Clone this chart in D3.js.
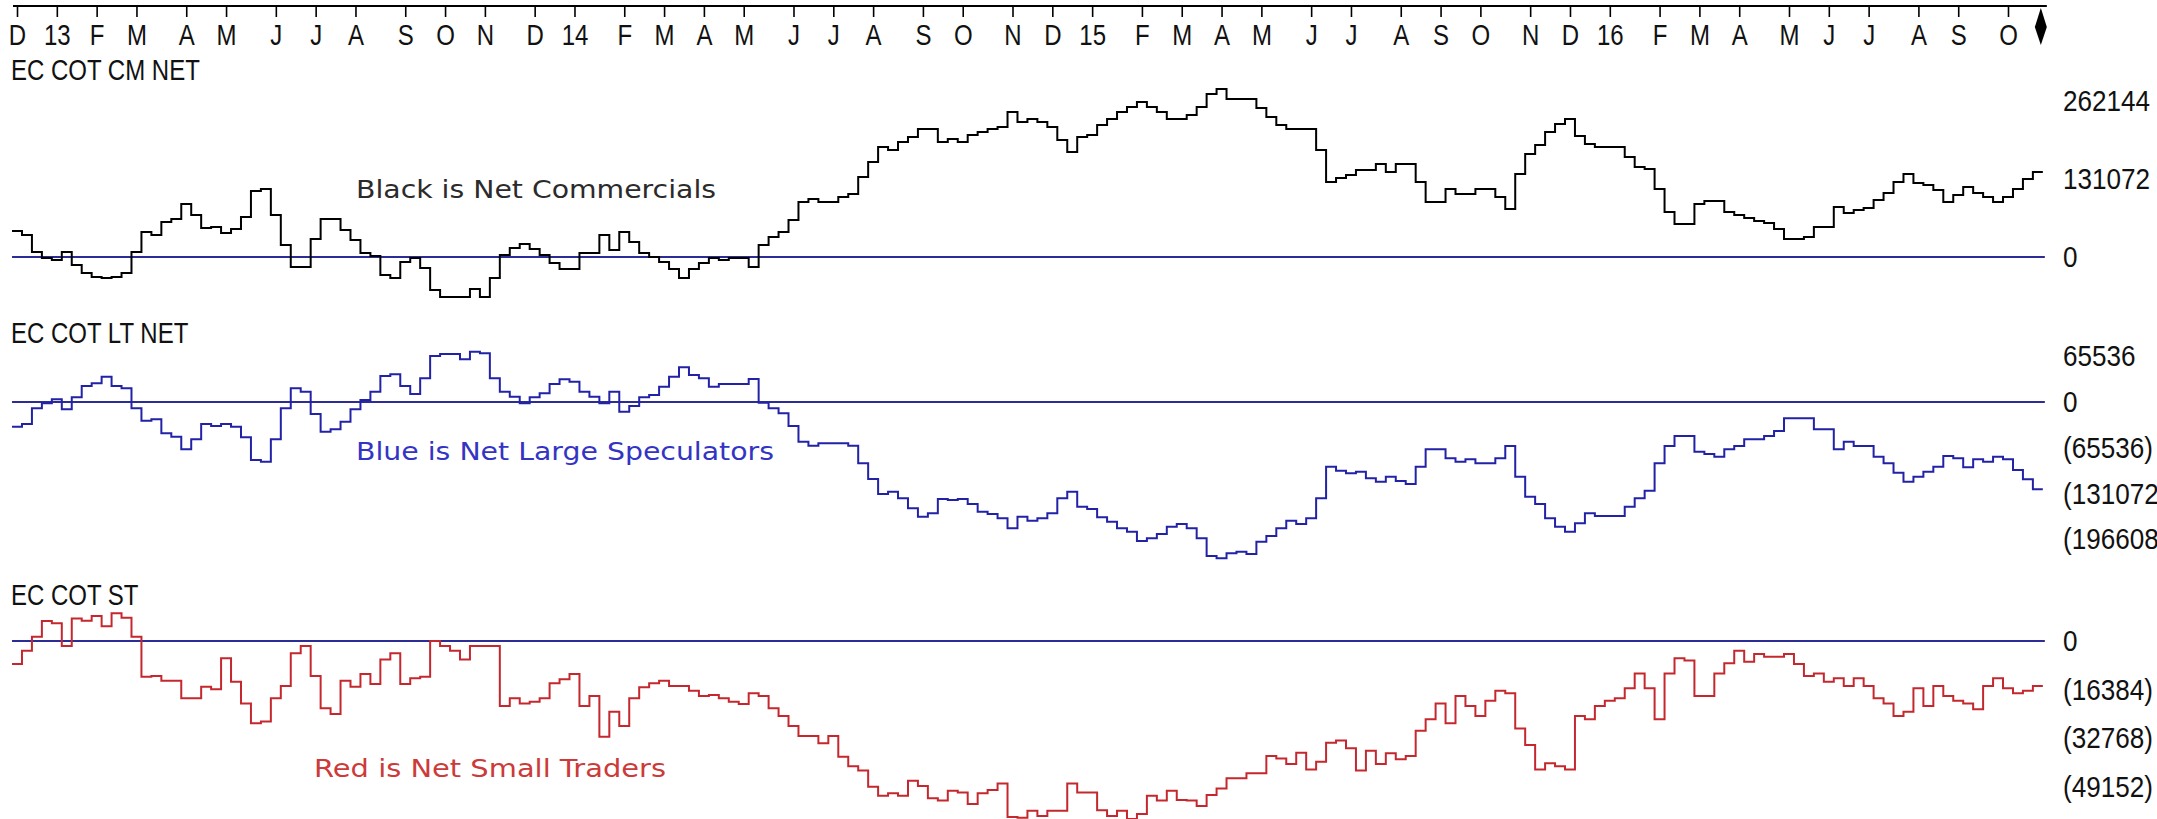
<!DOCTYPE html>
<html><head><meta charset="utf-8">
<script src="https://cdn.jsdelivr.net/npm/d3@7/dist/d3.min.js"></script>
<style>html,body{margin:0;padding:0;background:#fff;}svg{display:block;}</style>
</head><body>
<svg id="chart" width="2157" height="819"></svg>
<script>
// ---------------- DATA ----------------
const startDate = "2012-12-07";           // first weekly report shown
const monthLetters = ["J","F","M","A","M","J","J","A","S","O","N","D"];

const commercials = [
 43700, 37000, 8400, -1700, -5000, 8400, -13400, -26900, -33600, -35300,
 -33600, -26900, 8400, 42000, 37000, 58800, 63900, 89100, 70600, 48700,
 50400, 40300, 47100, 67200, 110900, 114300, 70600, 20200, -16800, -16800,
 30200, 63900, 63900, 45400, 28600, 6700, 1700, -30200, -35300, -8400,
 -1700, -18500, -55500, -67200, -67200, -67200, -53800, -67200, -35300, 3400,
 15100, 21800, 13400, 3400, -10100, -20200, -20200, 6700, 6700, 37000,
 11800, 42000, 25200, 6700, 0, -8400, -20200, -35300, -20200, -10100,
 -1700, -5000, -1700, -1700, -16800, 20200, 33600, 42000, 62200, 92400,
 97500, 92400, 92400, 100800, 105900, 134400, 159600, 184800, 179800, 193200,
 201600, 215100, 215100, 193200, 198300, 193200, 205000, 210100, 215100, 218500,
 243700, 226900, 231900, 226900, 218500, 196600, 176400, 201600, 205000, 221800,
 231900, 243700, 252100, 260500, 252100, 243700, 231900, 231900, 238600, 252100,
 273900, 282300, 265500, 265500, 265500, 250400, 235300, 221800, 215100, 215100,
 215100, 179800, 126000, 132800, 137800, 146200, 146200, 156300, 142800, 156300,
 156300, 126000, 92400, 92400, 114300, 105900, 105900, 114300, 114300, 100800,
 80700, 139500, 173100, 188200, 210100, 223500, 231900, 203300, 189900, 184800,
 184800, 184800, 168000, 151200, 147900, 114300, 75600, 55500, 55500, 89100,
 94100, 94100, 75600, 70600, 65500, 60500, 57100, 47100, 30200, 30200,
 33600, 50400, 50400, 84000, 73900, 79000, 82300, 95800, 107500, 126000,
 139500, 124300, 121000, 112600, 92400, 104200, 117600, 107500, 100800, 92400,
 100800, 114300, 131100, 142800
];

const largeSpecs = [
 -35400, -31500, -9000, -1900, 3900, -10500, 6700, 22900, 26800, 36200,
 22900, 19600, -9000, -26800, -24800, -44800, -49700, -67800, -53400, -31500,
 -34400, -31500, -35400, -50600, -83100, -85500, -53400, -9000, 19600, 14800,
 -17200, -42500, -39100, -28200, -10500, 2900, 14800, 37200, 39700, 22900,
 11500, 34000, 65900, 68800, 68800, 61200, 72100, 69800, 34000, 14800,
 7600, -1900, 6700, 12500, 25800, 32500, 29100, 14800, 7600, -1900,
 14800, -13900, -5700, 6700, 10000, 21900, 36200, 49700, 38700, 34000,
 21900, 25800, 25800, 25800, 32900, -1000, -9000, -16200, -34400, -56900,
 -62600, -59200, -59200, -59200, -62600, -87800, -110300, -131800, -128500, -137900,
 -152300, -164300, -159400, -139000, -140400, -139000, -146100, -157100, -160400, -166600,
 -180900, -164300, -170000, -166600, -159400, -137900, -128500, -150000, -153300, -165200,
 -171500, -180900, -185800, -199100, -195200, -189100, -178600, -174800, -180900, -195200,
 -220600, -223900, -216700, -214400, -217700, -200100, -192000, -180900, -170000, -174800,
 -166600, -137900, -92700, -98400, -102100, -99800, -109300, -114200, -107000, -113200,
 -117500, -92700, -67800, -67800, -80600, -85500, -82100, -87800, -87800, -80600,
 -63000, -107000, -135700, -146100, -166600, -178600, -185800, -173800, -159400, -163300,
 -163300, -163300, -150000, -137900, -127100, -87800, -63000, -48700, -48700, -71200,
 -74500, -78400, -67800, -63000, -53400, -53400, -48700, -41500, -23300, -23300,
 -23300, -39100, -39100, -67800, -56900, -63000, -63000, -78400, -87800, -101300,
 -114200, -107000, -99800, -92700, -77400, -80600, -93500, -82100, -85500, -78400,
 -82100, -97400, -110700, -125100
];

const smallTraders = [
 -7700, -3300, 1400, 6700, 6000, -1700, 7600, 6800, 8400, 5000,
 9300, 7800, 1400, -12000, -11800, -13400, -13400, -19300, -19300, -15400,
 -16200, -5800, -13700, -21000, -27700, -27100, -19300, -15100, -4100, -1700,
 -11800, -22600, -24600, -13400, -15400, -11100, -14500, -6200, -4100, -14500,
 -12500, -12000, 0, -1700, -3300, -6200, -1700, -1700, -1700, -21900,
 -19300, -21000, -20400, -19300, -14200, -12900, -11100, -21900, -18500, -32200,
 -23800, -28600, -19300, -15600, -14200, -13400, -15100, -15100, -16700, -18500,
 -18200, -19300, -20400, -21200, -17600, -18500, -22600, -25200, -28600, -32000,
 -32000, -34400, -32000, -38900, -42100, -43600, -49000, -52100, -51200, -52100,
 -47000, -48800, -52900, -53700, -50400, -51000, -54800, -51200, -50100, -47900,
 -59200, -59500, -57100, -58900, -57100, -57100, -47900, -51000, -51000, -56900,
 -58900, -57100, -59900, -58200, -52100, -53700, -50400, -53500, -53700, -55500,
 -51800, -49600, -46200, -46200, -44500, -44500, -38700, -39500, -41400, -37600,
 -43200, -40600, -34200, -33500, -36100, -43600, -36900, -41400, -37800, -39800,
 -38700, -30200, -26300, -21000, -27700, -18500, -21900, -25200, -20100, -16700,
 -17600, -29400, -35000, -43200, -41100, -42100, -43200, -25200, -26300, -21900,
 -20100, -19300, -15900, -10900, -15900, -26300, -10900, -5800, -6600, -18500,
 -18500, -10900, -7500, -3300, -7000, -4400, -5300, -5300, -4400, -7700,
 -11800, -10900, -13700, -12500, -15100, -12500, -15100, -19300, -21000, -25200,
 -23800, -15900, -21900, -15100, -18500, -20100, -21000, -23000, -15100, -12500,
 -15900, -17600, -16700, -15100
];

const ticksCM = [262144, 131072, 0];
const ticksLT = [65536, 0, -65536, -131072, -196608];
const ticksST = [0, -16384, -32768, -49152];
const panelTitles = ["EC COT CM NET", "EC COT LT NET", "EC COT ST"];
const notes = ["Black is Net Commercials", "Blue is Net Large Speculators", "Red is Net Small Traders"];

// ---------------- LAYOUT ----------------
const W = 2157, H = 819;
const svg = d3.select("#chart");
svg.append("rect").attr("width", W).attr("height", H).attr("fill", "#fff");

const n = commercials.length;
const t0 = d3.utcParse("%Y-%m-%d")(startDate);
const dates = d3.range(n).map(i => d3.utcDay.offset(t0, 7 * i));
const x = d3.scaleUtc().domain([dates[0], dates[n - 1]]).range([17, 17 + 9.955 * (n - 1)]);
const halfBack = d => d3.utcHour.offset(d, -84);
const lastEdge = d3.utcHour.offset(dates[n - 1], 84);

const condFont = "'Liberation Sans', Arial, sans-serif";

// ---- top time axis ----
const tickDates = dates.filter((d, i) => i === 0 || d.getUTCMonth() !== dates[i - 1].getUTCMonth());
const fmt = d => d.getUTCMonth() === 0 ? d3.utcFormat("%y")(d) : monthLetters[d.getUTCMonth()];
svg.append("line")
  .attr("x1", x(dates[0]) - 4).attr("x2", x(lastEdge) + 4)
  .attr("y1", 6).attr("y2", 6).attr("stroke", "#000").attr("stroke-width", 2);
const axisG = svg.append("g").attr("transform", "translate(0,6)")
  .call(d3.axisBottom(x).tickValues(tickDates).tickFormat(fmt).tickSize(11).tickSizeOuter(0));
axisG.select(".domain").remove();
axisG.selectAll(".tick line").attr("stroke", "#000").attr("stroke-width", 1.6);
axisG.selectAll(".tick text")
  .attr("y", null).attr("dy", null).attr("fill", "#111")
  .attr("font-family", condFont).attr("font-size", 30)
  .attr("text-anchor", "middle")
  .attr("transform", "translate(0,39) scale(0.8,1)");

// end-of-data diamond marker
const dx = x(lastEdge) - 2;
svg.append("path")
  .attr("d", `M${dx},8 L${dx + 6},27 L${dx},45 L${dx - 6},27 Z`)
  .attr("fill", "#000");

// ---- panels ----
const panels = [
  { title: panelTitles[0], titleY: 80, data: commercials, color: "#000000", ticks: ticksCM,
    domain: [0, 262144], range: [257, 101], note: notes[0], noteX: 356, noteY: 198, noteW: 360, noteColor: "#2b2b2b" },
  { title: panelTitles[1], titleY: 343, data: largeSpecs, color: "#2222a6", ticks: ticksLT,
    domain: [-196608, 65536], range: [539.25, 356.25], note: notes[1], noteX: 356, noteY: 460, noteW: 418, noteColor: "#3434c4" },
  { title: panelTitles[2], titleY: 605, data: smallTraders, color: "#c4282e", ticks: ticksST,
    domain: [-49152, 0], range: [787.1, 641], note: notes[2], noteX: 314, noteY: 777, noteW: 352, noteColor: "#cc3a3a" }
];

const labelFmt = v => v < 0 ? `(${-v})` : `${v}`;

panels.forEach(p => {
  const y = d3.scaleLinear().domain(p.domain).range(p.range);
  const g = svg.append("g");

  // title
  g.append("text").text(p.title)
    .attr("font-family", condFont).attr("font-size", 30).attr("fill", "#111")
    .attr("transform", `translate(11,${p.titleY}) scale(0.8,1)`);

  // zero line
  g.append("line")
    .attr("x1", x(halfBack(dates[0]))).attr("x2", x(lastEdge) + 2)
    .attr("y1", y(0)).attr("y2", y(0))
    .attr("stroke", "#2c2c96").attr("stroke-width", 2);

  // right value labels
  g.selectAll("text.val").data(p.ticks).join("text").attr("class", "val")
    .text(labelFmt)
    .attr("font-family", condFont).attr("font-size", 29).attr("fill", "#111")
    .attr("transform", v => `translate(2063,${y(v) + 10}) scale(0.9,1)`);

  // stepped series
  const pts = p.data.map((v, i) => [halfBack(dates[i]), v]).concat([[lastEdge, p.data[n - 1]]]);
  const line = d3.line().x(d => x(d[0])).y(d => y(d[1])).curve(d3.curveStepAfter);
  g.append("path").attr("d", line(pts))
    .attr("fill", "none").attr("stroke", p.color).attr("stroke-width", 2)
    .attr("stroke-linejoin", "miter");

  // annotation
  g.append("text").text(p.note)
    .attr("x", p.noteX).attr("y", p.noteY)
    .attr("font-family", "'DejaVu Sans', Verdana, sans-serif").attr("font-size", 25)
    .attr("textLength", p.noteW).attr("lengthAdjust", "spacingAndGlyphs")
    .attr("fill", p.noteColor);
});
</script>
</body></html>
